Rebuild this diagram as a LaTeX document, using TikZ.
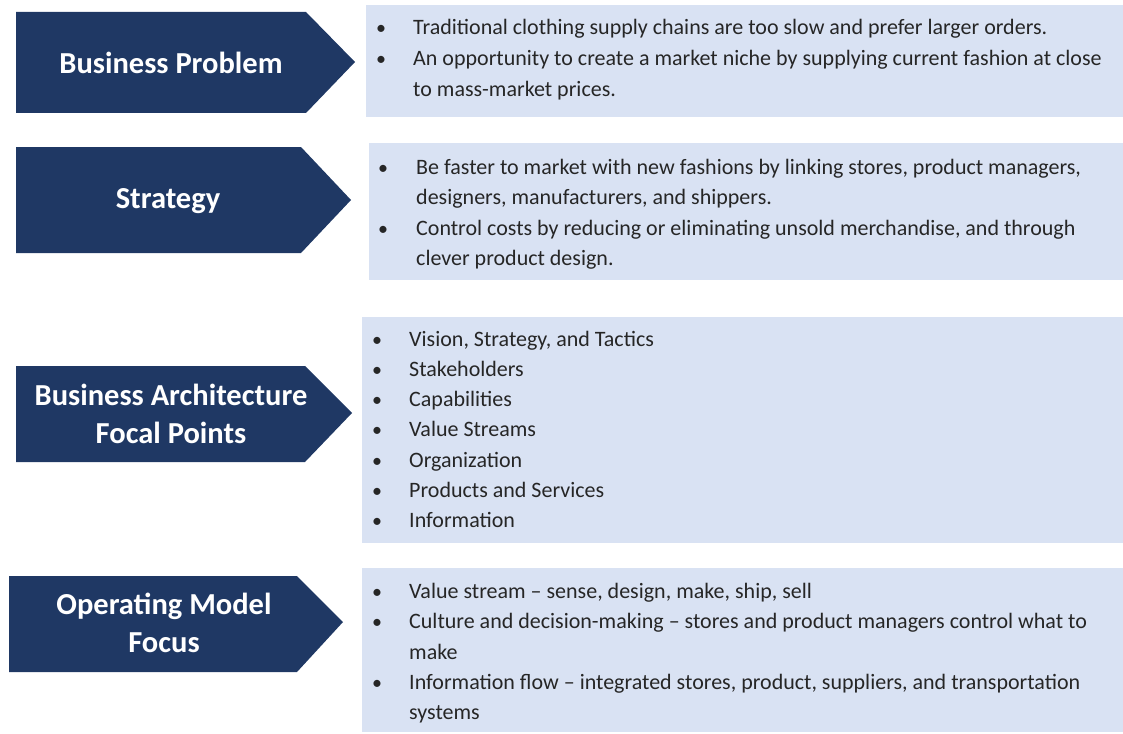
\documentclass[tikz,border=0pt]{standalone}
\usepackage{fontspec}
\setmainfont{Carlito}
\definecolor{navy}{HTML}{1F3864}
\definecolor{paleblue}{HTML}{D9E2F3}
\definecolor{bodytext}{HTML}{262626}
\begin{document}
\begin{tikzpicture}[x=1pt,y=-1pt,
  arrowshape/.style={fill=navy},
  panel/.style={fill=paleblue},
  titletxt/.style={text=white,font=\fontsize{30.5}{38}\selectfont\bfseries,align=center,inner sep=0},
  txt/.style={anchor=base west,inner sep=0,text=bodytext,font=\fontsize{22}{26}\selectfont},
  bul/.style={anchor=base,inner sep=0,text=bodytext,font=\fontsize{20}{24}\selectfont}]
\useasboundingbox (0,0) rectangle (1123,733);
% panels
\fill[panel] (366,5) rectangle (1123,117);
\fill[panel] (369,143) rectangle (1123,280);
\fill[panel] (362,317) rectangle (1123,543);
\fill[panel] (362,568) rectangle (1123,732);
% arrows
\fill[arrowshape] (16,12) -- (306,12) -- (355,62) -- (306,113) -- (16,113) -- cycle;
\fill[arrowshape] (16,147) -- (301,147) -- (351,200) -- (301,253) -- (16,253) -- cycle;
\fill[arrowshape] (16,366) -- (305,366) -- (352,413) -- (305,462) -- (16,462) -- cycle;
\fill[arrowshape] (9,576) -- (297,576) -- (343,622) -- (297,672) -- (9,672) -- cycle;
% titles
\node[titletxt] (t1) at (171,63) {Business Problem};
\node[titletxt] (t2) at (168,201) {Strategy};
\node[titletxt] (t3) at (171,414) {Business Architecture\\Focal Points};
\node[titletxt] (t4) at (164,623) {Operating Model\\Focus};
% panel 1
\node[bul] (b11) at (381,35) {•};
\node[txt] (l11) at (413,35) {Traditional clothing supply chains are too slow and prefer larger orders.};
\node[bul] (b12) at (381,65.5) {•};
\node[txt] (l12) at (413,65.5) {An opportunity to create a market niche by supplying current fashion at close};
\node[txt] (l13) at (413,96) {to mass-market prices.};
% panel 2
\node[bul] (b21) at (383,174) {•};
\node[txt] (l21) at (416,174) {Be faster to market with new fashions by linking stores, product managers,};
\node[txt] (l22) at (416,204) {designers, manufacturers, and shippers.};
\node[bul] (b22) at (383,235) {•};
\node[txt] (l23) at (416,235) {Control costs by reducing or eliminating unsold merchandise, and through};
\node[txt] (l24) at (416,265) {clever product design.};
% panel 3
\node[bul] (b31) at (377,346) {•};
\node[txt] (l31) at (409,346) {Vision, Strategy, and Tactics};
\node[bul] (b32) at (377,376) {•};
\node[txt] (l32) at (409,376) {Stakeholders};
\node[bul] (b33) at (377,406) {•};
\node[txt] (l33) at (409,406) {Capabilities};
\node[bul] (b34) at (377,436) {•};
\node[txt] (l34) at (409,436) {Value Streams};
\node[bul] (b35) at (377,467) {•};
\node[txt] (l35) at (409,467) {Organization};
\node[bul] (b36) at (377,497) {•};
\node[txt] (l36) at (409,497) {Products and Services};
\node[bul] (b37) at (377,527) {•};
\node[txt] (l37) at (409,527) {Information};
% panel 4
\node[bul] (b41) at (377,598) {•};
\node[txt] (l41) at (409,598) {Value stream – sense, design, make, ship, sell};
\node[bul] (b42) at (377,628) {•};
\node[txt] (l42) at (409,628) {Culture and decision-making – stores and product managers control what to};
\node[txt] (l43) at (409,659) {make};
\node[bul] (b43) at (377,689) {•};
\node[txt] (l44) at (409,689) {Information flow – integrated stores, product, suppliers, and transportation};
\node[txt] (l45) at (409,719) {systems};
\end{tikzpicture}
\end{document}
